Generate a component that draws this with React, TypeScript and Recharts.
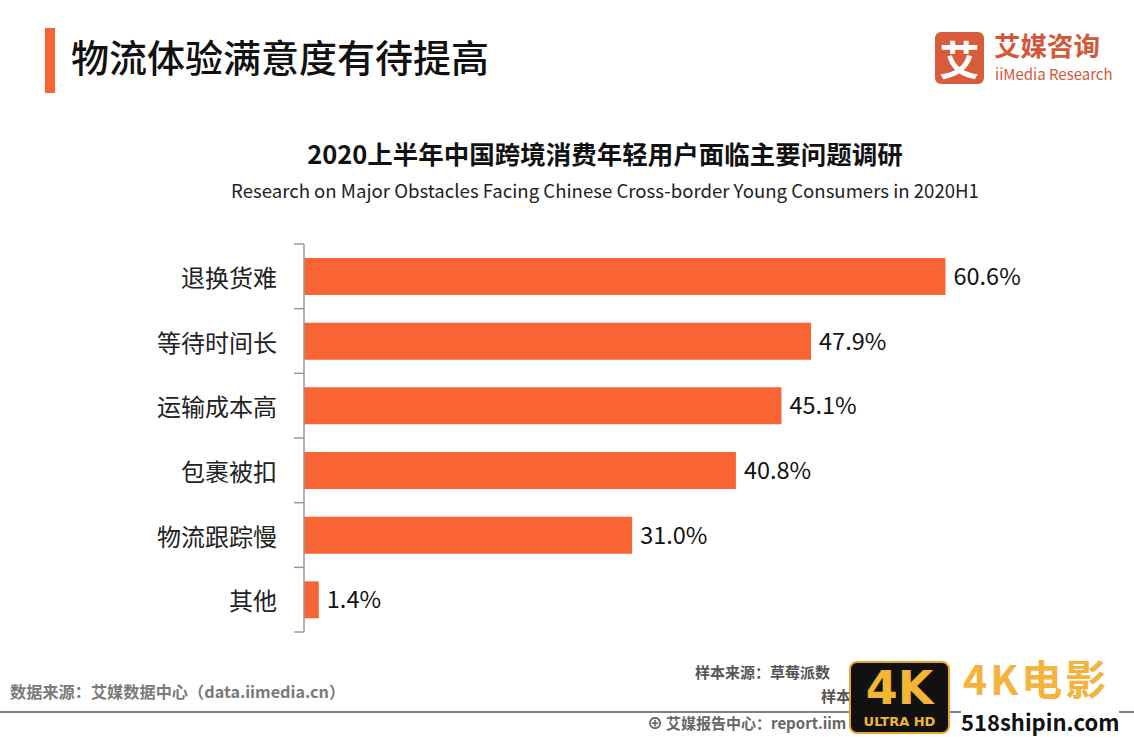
import React from 'react';
import { BarChart, Bar, XAxis, YAxis, LabelList } from 'recharts';

const categories = ['退换货难', '等待时间长', '运输成本高', '包裹被扣', '物流跟踪慢', '其他'];
const values = [60.6, 47.9, 45.1, 40.8, 31.0, 1.4];
const data = categories.map((c, i) => ({ name: c, value: values[i] }));

const FONT = '"Noto Sans CJK SC", "Noto Sans", sans-serif';
const BAR_COLOR = '#F96435';
const PLOT_TOP = 244;
const PLOT_BOTTOM = 632;
const BAND = (PLOT_BOTTOM - PLOT_TOP) / categories.length;

const CategoryTick = (props: any) => {
  const { y, payload, index } = props;
  return (
    <g>
      <line x1={294} x2={304} y1={y - BAND / 2} y2={y - BAND / 2} stroke="#999" strokeWidth={1.5} />
      {index === categories.length - 1 && (
        <line x1={294} x2={304} y1={y + BAND / 2} y2={y + BAND / 2} stroke="#999" strokeWidth={1.5} />
      )}
      <text x={277} y={y} textAnchor="end" dominantBaseline="central" fontSize={24} fill="#222" fontFamily={FONT}>
        {payload.value}
      </text>
    </g>
  );
};

const abs = (left: number, top: number, extra: React.CSSProperties = {}): React.CSSProperties => ({
  position: 'absolute',
  left,
  top,
  whiteSpace: 'nowrap',
  fontFamily: FONT,
  lineHeight: 1,
  ...extra,
});

export default function App() {
  return (
    <div style={{ position: 'absolute', left: 0, top: 0, width: 1134, height: 737, background: '#fff', overflow: 'hidden', fontFamily: FONT }}>
      {/* header */}
      <div style={abs(45, 28, { width: 10, height: 65, background: BAR_COLOR })} />
      <div style={abs(71, 37, { fontSize: 38, color: '#111', fontWeight: 500 })}>物流体验满意度有待提高</div>

      {/* logo */}
      <div style={abs(935, 32, { width: 49, height: 52, background: '#D85B3B', borderRadius: 6, color: '#fff', fontSize: 40, fontWeight: 700, textAlign: 'center', lineHeight: '52px' })}>艾</div>
      <div style={abs(994, 32, { fontSize: 26.5, color: '#D4573A', fontWeight: 700 })}>艾媒咨询</div>
      <div style={abs(995, 66, { fontSize: 15, color: '#D4573A' })}>iiMedia Research</div>

      {/* chart titles */}
      <div style={abs(0, 140, { width: 1210, textAlign: 'center', fontSize: 25.5, fontWeight: 700, color: '#111' })}>
        2020上半年中国跨境消费年轻用户面临主要问题调研
      </div>
      <div style={abs(0, 181, { width: 1210, textAlign: 'center', fontSize: 18.6, color: '#222' })}>
        Research on Major Obstacles Facing Chinese Cross-border Young Consumers in 2020H1
      </div>

      <div style={{ position: 'absolute', left: 0, top: 0 }}>
        <BarChart
          width={1134}
          height={737}
          data={data}
          layout="vertical"
          margin={{ top: PLOT_TOP, right: 89, bottom: 737 - PLOT_BOTTOM, left: 0 }}
        >
          <XAxis type="number" domain={[0, 70]} hide />
          <YAxis
            type="category"
            dataKey="name"
            width={304}
            axisLine={{ stroke: '#999', strokeWidth: 1.5 }}
            tickLine={false}
            tick={<CategoryTick />}
            interval={0}
          />
          <Bar dataKey="value" fill={BAR_COLOR} barSize={37} isAnimationActive={false}>
            <LabelList
              dataKey="value"
              position="right"
              offset={8}
              formatter={(v: any) => `${Number(v).toFixed(1)}%`}
              style={{ fontSize: 23.5, fill: '#111', fontFamily: FONT }}
            />
          </Bar>
        </BarChart>
      </div>

      {/* footer */}
      <div style={abs(10, 683, { fontSize: 16.2, color: '#7a7a7a', fontWeight: 700 })}>数据来源：艾媒数据中心（data.iimedia.cn）</div>
      <div style={abs(0, 711, { width: 1134, height: 2, background: '#808080' })} />
      {/* only the parts not hidden by the watermark in the reference */}
      <div style={abs(695, 664, { fontSize: 15, color: '#555', fontWeight: 700 })}>样本来源：草莓派数</div>
      <div style={abs(821, 688, { fontSize: 15, color: '#555', fontWeight: 700 })}>样本</div>
      <div style={abs(647, 714, { fontSize: 15, color: '#666', fontWeight: 700 })}>
        <span style={{ fontSize: 16, marginRight: 3 }}>⊕</span>艾媒报告中心：report.iim
      </div>

      {/* watermark */}
      <div style={abs(849, 661, { width: 101, height: 73, background: '#111', borderRadius: 8, border: '2px solid #E9A530', boxSizing: 'border-box' })}>
        <div style={{ color: '#F2B632', fontSize: 46, fontWeight: 900, textAlign: 'center', lineHeight: '50px', height: 50, fontFamily: '"DejaVu Sans", sans-serif' }}>4K</div>
        <div style={{ color: '#F2B632', fontSize: 13, fontWeight: 900, textAlign: 'center', lineHeight: '15px', marginTop: 1, fontFamily: '"DejaVu Sans", sans-serif' }}>ULTRA HD</div>
      </div>
      <div style={abs(963, 657, { fontSize: 41, fontWeight: 700, color: '#F3B33D', letterSpacing: 3 })}>4K电影</div>
      <div style={abs(961, 710, { fontSize: 22, fontWeight: 700, color: '#111', background: '#fff' })}>518shipin.com</div>
    </div>
  );
}
